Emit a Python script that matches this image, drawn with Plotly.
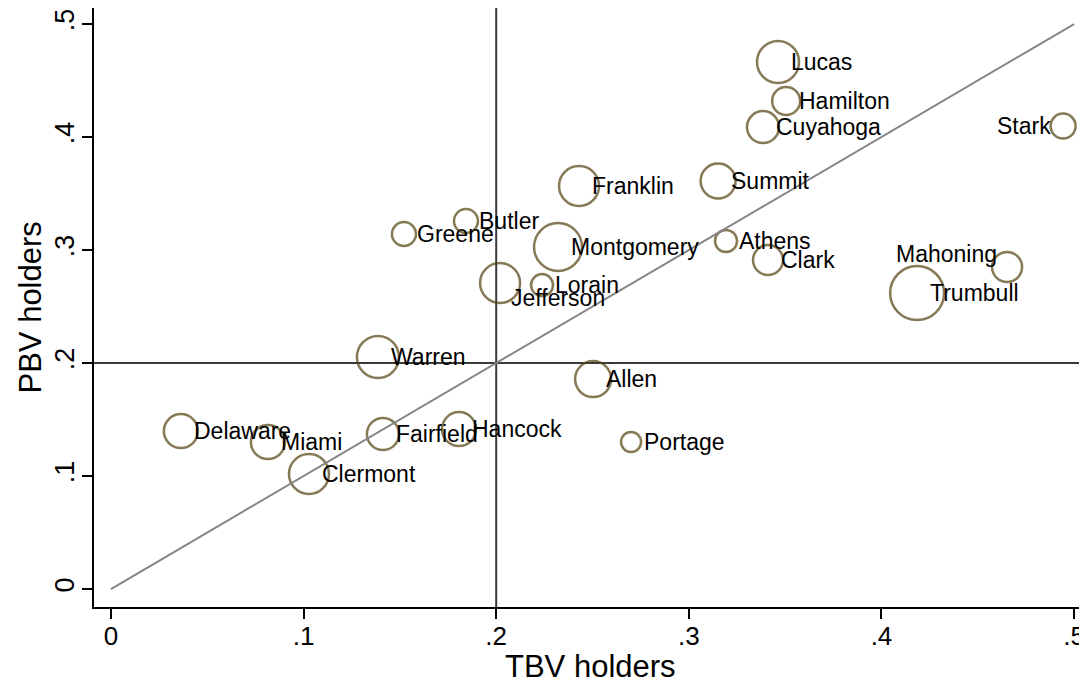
import plotly.graph_objects as go

# ---- data ----
counties = ["Lucas", "Hamilton", "Cuyahoga", "Stark", "Franklin", "Summit", "Butler",
            "Greene", "Montgomery", "Athens", "Clark", "Mahoning", "Trumbull", "Jefferson",
            "Lorain", "Warren", "Allen", "Delaware", "Miami", "Fairfield", "Hancock",
            "Portage", "Clermont"]
tbv_holders = [0.3463, 0.3505, 0.3385, 0.4943, 0.2430, 0.3152, 0.1843,
               0.1521, 0.2321, 0.3193, 0.3411, 0.4652, 0.4185, 0.2020,
               0.2238, 0.1386, 0.2503, 0.0363, 0.0815, 0.1412, 0.1807,
               0.2700, 0.1028]
pbv_holders = [0.4664, 0.4319, 0.4088, 0.4097, 0.3566, 0.3611, 0.3257,
               0.3142, 0.3027, 0.3080, 0.2912, 0.2850, 0.2619, 0.2708,
               0.2690, 0.2053, 0.1858, 0.1398, 0.1301, 0.1372, 0.1416,
               0.1301, 0.1018]
weights = [441, 196, 256, 156, 400, 306, 144,
           144, 576, 121, 225, 225, 729, 400,
           121, 441, 324, 289, 289, 256, 289,
           100, 400]
tick_vals = [0, 0.1, 0.2, 0.3, 0.4, 0.5]
tick_text = ["0", ".1", ".2", ".3", ".4", ".5"]
x_title = "TBV holders"
y_title = "PBV holders"
ref_x = 0.2
ref_y = 0.2
diag = [0, 0.5]

# ---- style ----
FONT = "Liberation Sans, Arial, Helvetica, sans-serif"
RING = "#54420f"
LABEL_POS = {"Stark": 9, "Mahoning": 11, "Jefferson": 4}
OFFSETS = {3: ("left", 11, 0), 9: ("right", -10, 0), 11: ("right", -8, 13), 4: ("left", 9, -15)}

fig = go.Figure()

# reference lines
fig.add_shape(type="line", xref="x", yref="paper", x0=ref_x, x1=ref_x, y0=0, y1=1,
              line=dict(color="#3a3a3a", width=2), layer="below")
fig.add_shape(type="line", xref="paper", yref="y", x0=0, x1=1, y0=ref_y, y1=ref_y,
              line=dict(color="#3a3a3a", width=2), layer="below")

fig.add_trace(go.Scatter(
    x=tbv_holders, y=pbv_holders, mode="markers",
    marker=dict(size=weights, sizemode="area", sizeref=0.5,
                color="rgba(0,0,0,0)", line=dict(color=RING, width=2.5)),
    hoverinfo="skip", showlegend=False))

fig.add_trace(go.Scatter(x=diag, y=diag, mode="lines",
                         line=dict(color="#858585", width=2),
                         hoverinfo="skip", showlegend=False))

for name, xv, yv in zip(counties, tbv_holders, pbv_holders):
    anchor, dx, dy = OFFSETS[LABEL_POS.get(name, 3)]
    fig.add_annotation(x=xv, y=yv, text=name, showarrow=False,
                       xanchor=anchor, yanchor="middle", xshift=dx, yshift=dy,
                       font=dict(family=FONT, size=23, color="#000000"))

# axis titles
fig.add_annotation(xref="paper", yref="paper", x=0.5, y=0, xanchor="center", yanchor="top",
                   yshift=-40, text=x_title, showarrow=False,
                   font=dict(family=FONT, size=31, color="#000000"))
fig.add_annotation(xref="paper", yref="paper", x=0, y=0.5, xanchor="center", yanchor="middle",
                   xshift=-64, textangle=-90, text=y_title, showarrow=False,
                   font=dict(family=FONT, size=31, color="#000000"))

# the page body adds an 8px offset; size the figure to fill the remaining window
fig.update_layout(
    width=1079, height=675,
    margin=dict(l=86, r=0, t=0, b=76, autoexpand=False),
    paper_bgcolor="white", plot_bgcolor="white",
    font=dict(family=FONT, color="#000000"),
    showlegend=False,
)
fig.update_xaxes(range=[-0.0088, 0.5067], tickvals=tick_vals, ticktext=tick_text,
                 showgrid=False, zeroline=False, showline=True, linecolor="#000000",
                 linewidth=2, ticks="outside", ticklen=10, tickwidth=1.5, tickcolor="#000000",
                 ticklabelstandoff=-5,
                 tickfont=dict(size=26), automargin=False)
fig.update_yaxes(range=[-0.0159, 0.5142], tickvals=tick_vals, ticktext=tick_text,
                 showgrid=False, zeroline=False, showline=True, linecolor="#000000",
                 linewidth=2, ticks="outside", ticklen=10, tickwidth=1.5, tickcolor="#000000",
                 tickangle=-90, ticklabelstandoff=-3,
                 tickfont=dict(size=27), automargin=False)

fig.write_html("out.html")
